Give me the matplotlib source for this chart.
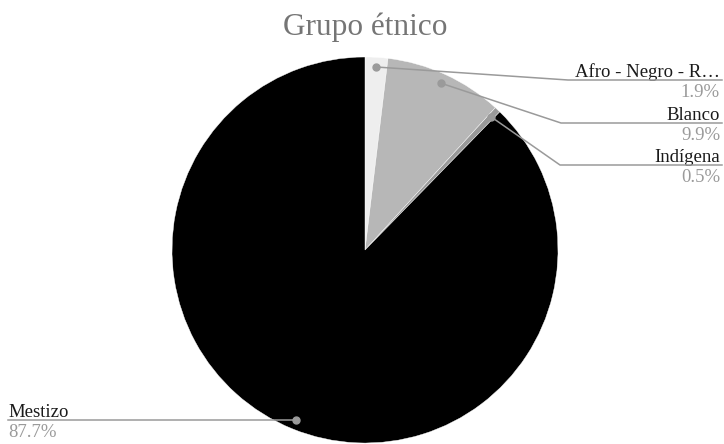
import numpy as np
import matplotlib.pyplot as plt

plt.rcParams['font.family'] = ['Liberation Serif', 'DejaVu Serif']

labels = ['Afro - Negro - R…', 'Blanco', 'Indígena', 'Mestizo']
shares = [1.9, 9.9, 0.5, 87.7]
colors = ['#eeeeee', '#b7b7b7', '#999999', '#000000']

W, H = 724, 444
fig = plt.figure(figsize=(W / 100, H / 100), dpi=100)
ax = fig.add_axes([0, 0, 1, 1])

cx, cy, r = 365, H - 250, 193
wedges, _ = ax.pie(shares, colors=colors, startangle=90, counterclock=False,
                   center=(cx, cy), radius=r, frame=True,
                   wedgeprops=dict(edgecolor='white', linewidth=0.3))
ax.set_xlim(0, W)
ax.set_ylim(0, H)
ax.axis('off')

# label layout: (elbow x, line y in pixels from top, side)
layout = [(568, 80, 'r'), (561, 123, 'r'), (560, 165, 'r'), (None, None, 'l')]
line_c = '#9a9a9a'
for w, lab, val, (ex, ly, side) in zip(wedges, labels, shares, layout):
    ang = np.deg2rad((w.theta1 + w.theta2) / 2)
    px = cx + 0.95 * r * np.cos(ang)
    py = cy + 0.95 * r * np.sin(ang)
    ax.plot(px, py, 'o', color=line_c, ms=5, zorder=5)
    if side == 'r':
        yl = H - ly
        ax.plot([px, ex, 722], [py, yl, yl], color=line_c, lw=1.1, zorder=4)
        tx, ha = 720, 'right'
    else:
        yl = py
        ax.plot([px, 8], [yl, yl], color=line_c, lw=1.1, zorder=4)
        tx, ha = 8, 'left'
    ax.text(tx, yl + 3, lab, ha=ha, va='baseline', fontsize=13.5, color='#1a1a1a')
    ax.text(tx, yl - 4, f'{val}%', ha=ha, va='top', fontsize=13.5, color='#9a9a9a')

ax.text(365, H - 27, 'Grupo étnico', ha='center', va='center', fontsize=22.5, color='#757575')

fig.savefig('out.png', dpi=100, facecolor='white')
